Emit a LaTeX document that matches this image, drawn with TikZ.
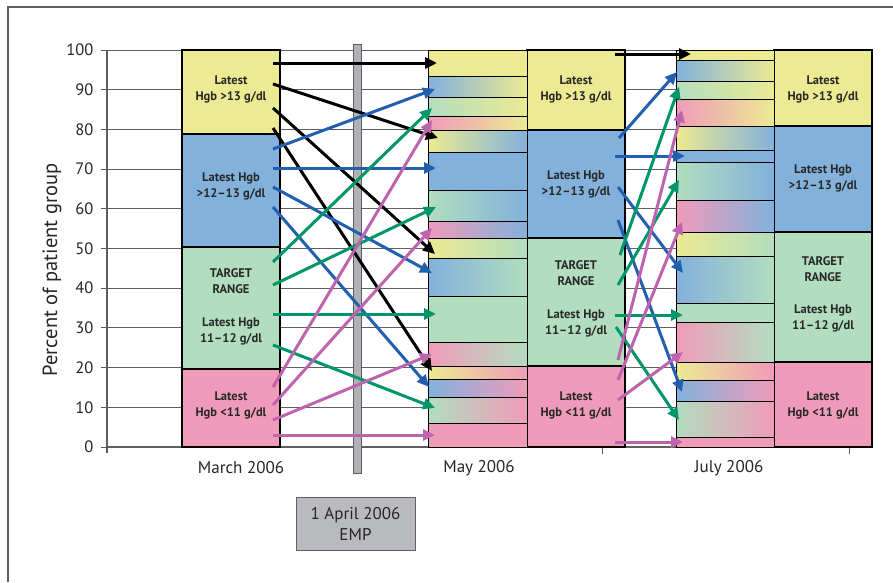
\documentclass[tikz,border=0pt]{standalone}
\usepackage{fontspec}
\setmainfont{PT Sans}
\usetikzlibrary{arrows.meta}
\definecolor{cY}{RGB}{236,234,146}
\definecolor{cB}{RGB}{130,177,220}
\definecolor{cG}{RGB}{178,221,191}
\definecolor{cP}{RGB}{240,155,186}
\definecolor{mSky}{RGB}{120,200,238}
\definecolor{mGY}{RGB}{207,228,168}
\definecolor{mYB}{RGB}{190,220,188}
\definecolor{mGB}{RGB}{130,205,228}
\definecolor{mPeach}{RGB}{250,203,162}
\definecolor{mPurp}{RGB}{176,164,208}
\definecolor{mGray}{RGB}{216,210,200}
\definecolor{aBlk}{RGB}{0,0,0}
\definecolor{aBlu}{RGB}{35,95,175}
\definecolor{aGrn}{RGB}{0,150,105}
\definecolor{aPnk}{RGB}{190,100,175}
\definecolor{txt}{RGB}{40,40,40}
\definecolor{gridc}{RGB}{95,95,95}
\definecolor{empgray}{RGB}{185,186,190}
\definecolor{bargray}{RGB}{176,177,181}
\tikzset{
  arr/.style={line width=3pt,-{Triangle[length=12pt,width=11pt]}},
  barbox/.style={draw=black,line width=1.3pt},
  segbox/.style={draw=black,line width=1pt},
  lab/.style={text=txt,align=center,font=\fontsize{12.5}{16}\selectfont\bfseries},
  axlab/.style={text=black!85,font=\fontsize{17}{20}\selectfont},
  ticklab/.style={text=black!85,anchor=east,font=\fontsize{16.5}{19}\selectfont}
}
\begin{document}
\begin{tikzpicture}[x=1pt,y=-1pt]
\useasboundingbox (0,0) rectangle (893,582);
\fill[white] (0,0) rectangle (893,582);
% frame
\draw[gridc,line width=1.5pt] (8,582) -- (8,7) -- (893,7);
% grid and tick labels
\foreach \k in {0,...,10}{
  \draw[gridc,line width=1pt] (101,447-39.7*\k) -- (849,447-39.7*\k);
  \node[ticklab] (t\k) at (97,447-39.7*\k) {\the\numexpr\k*10\relax};
}
\draw[gridc,line width=1.3pt] (107,50) -- (107,453);
\draw[gridc,line width=1.3pt] (107,447) -- (849,447);
\foreach \x in {354,602,849} \draw[gridc,line width=1pt] (\x,447) -- (\x,454);
\node[rotate=90,text=black!85,font=\fontsize{20.5}{24}\selectfont] (ylab) at (52,270) {Percent of patient group};
% March bar
\filldraw[barbox,fill=cY] (182,50) rectangle (280,134);
\filldraw[barbox,fill=cB] (182,134) rectangle (280,247);
\filldraw[barbox,fill=cG] (182,247) rectangle (280,369);
\filldraw[barbox,fill=cP] (182,369) rectangle (280,447);
% May summary bar
\filldraw[barbox,fill=cY] (527,50) rectangle (625,130);
\filldraw[barbox,fill=cB] (527,130) rectangle (625,238);
\filldraw[barbox,fill=cG] (527,238) rectangle (625,366);
\filldraw[barbox,fill=cP] (527,366) rectangle (625,447);
% July summary bar
\filldraw[barbox,fill=cY] (774,50) rectangle (872,126);
\filldraw[barbox,fill=cB] (774,126) rectangle (872,232);
\filldraw[barbox,fill=cG] (774,232) rectangle (872,362);
\filldraw[barbox,fill=cP] (774,362) rectangle (872,447);
% May gradient bar
\foreach \a/\b/\l/\m/\r in {
 50/76.5/cY/cY/cY, 76.5/97.5/cB/mSky/cY, 97.5/116.5/cG/mGY/cY, 116.5/130/cP/mPeach/cY,
 130/152.5/cY/mYB/cB, 152.5/190.5/cB/cB/cB, 190.5/221/cG/mGB/cB, 221/238/cP/mPurp/cB,
 238/258.5/cY/mGY/cG, 258.5/296.5/cB/mSky/cG, 296.5/342.5/cG/cG/cG, 342.5/366/cP/mGray/cG,
 366/379.5/cY/mPeach/cP, 379.5/397.5/cB/mPurp/cP, 397.5/423.5/cG/mGray/cP, 423.5/447/cP/cP/cP}
 \shadedraw[segbox,left color=\l,middle color=\m,right color=\r] (428,\a) rectangle (527,\b);
% July gradient bar
\foreach \a/\b/\l/\m/\r in {
 50/60/cY/cY/cY, 60/81/cB/mSky/cY, 81/99/cG/mGY/cY, 99/126/cP/mPeach/cY,
 126/150/cY/mYB/cB, 150/162.5/cB/cB/cB, 162.5/200/cG/mGB/cB, 200/232/cP/mPurp/cB,
 232/256/cY/mGY/cG, 256/303.5/cB/mSky/cG, 303.5/322.5/cG/cG/cG, 322.5/362/cP/mGray/cG,
 362/380/cY/mPeach/cP, 380/401.5/cB/mPurp/cP, 401.5/437.5/cG/mGray/cP, 437.5/447/cP/cP/cP}
 \shadedraw[segbox,left color=\l,middle color=\m,right color=\r] (676,\a) rectangle (774,\b);
% bar labels
\node[lab] (marY) at (231,89) {Latest\\Hgb >13 g/dl};
\node[lab] (marB) at (231,186) {Latest Hgb\\>12–13 g/dl};
\node[lab] (marT) at (231,281) {TARGET\\RANGE};
\node[lab] (marG) at (231,331) {Latest Hgb\\11–12 g/dl};
\node[lab] (marP) at (231,405) {Latest\\Hgb <11 g/dl};
\node[lab] (mayY) at (576,89) {Latest\\Hgb >13 g/dl};
\node[lab] (mayB) at (576,184.5) {Latest Hgb\\>12–13 g/dl};
\node[lab] (mayT) at (576,273.5) {TARGET\\RANGE};
\node[lab] (mayG) at (576,323.5) {Latest Hgb\\11–12 g/dl};
\node[lab] (mayP) at (576,405.5) {Latest\\Hgb <11 g/dl};
\node[lab] (julY) at (823,89) {Latest\\Hgb >13 g/dl};
\node[lab] (julB) at (823,178) {Latest Hgb\\>12–13 g/dl};
\node[lab] (julT) at (823,269) {TARGET\\RANGE};
\node[lab] (julG) at (823,318.5) {Latest Hgb\\11–12 g/dl};
\node[lab] (julP) at (823,405) {Latest\\Hgb <11 g/dl};
% EMP bar
\filldraw[fill=bargray,draw=gridc,line width=1pt] (353,44) rectangle (361,473);
% March -> May arrows
\foreach \i/\sx/\sy/\ex/\ey/\c in {
 1/273/63/437/63/aBlk, 2/273/84/438/138/aBlk, 3/273/108/435/254/aBlk, 4/273/128/432/371/aBlk,
 5/273/149/435/89/aBlu, 6/273/168/436/168/aBlu, 7/273/187/432/273/aBlu, 8/273/207/429/387/aBlu,
 9/273/262/432/108/aGrn, 10/273/285/436/207/aGrn, 11/273/314/436/314/aGrn, 12/273/345/435/408/aGrn,
 13/273/387/432/120/aPnk, 14/273/405/432/228/aPnk, 15/273/420/432/354/aPnk, 16/273/435/435/435/aPnk}{
  \coordinate (ms\i) at (\sx,\sy);
  \coordinate (me\i) at (\ex,\ey);
  \draw[arr,\c] (ms\i) -- (me\i);
}
% May -> July arrows
\foreach \i/\sx/\sy/\ex/\ey/\c in {
 1/615/54/691/54/aBlk,
 2/619/138/677/72/aBlu, 3/615/156/685/156/aBlu, 4/618/187/683/273/aBlu, 5/618/220/682/392/aBlu,
 6/620/255/679/87/aGrn, 7/618/285/679/180/aGrn, 8/615/315/683/315/aGrn, 9/616/327/679/420/aGrn,
 10/618/360/682/110/aPnk, 11/618/380/682/222/aPnk, 12/618/400/683/352/aPnk, 13/615/442/683/442/aPnk}{
  \coordinate (js\i) at (\sx,\sy);
  \coordinate (je\i) at (\ex,\ey);
  \draw[arr,\c] (js\i) -- (je\i);
}
% axis labels
\node[axlab] (lmar) at (241,468) {March 2006};
\node[axlab] (lmay) at (479,468) {May 2006};
\node[axlab] (ljul) at (729,468) {July 2006};
% EMP box
\node[draw=gridc,fill=empgray,line width=1pt,minimum width=119pt,minimum height=53pt,align=center,text=black!85,font=\fontsize{17}{21}\selectfont] (emp) at (355.5,523.5) {1 April 2006\\EMP};
\end{tikzpicture}
\end{document}
